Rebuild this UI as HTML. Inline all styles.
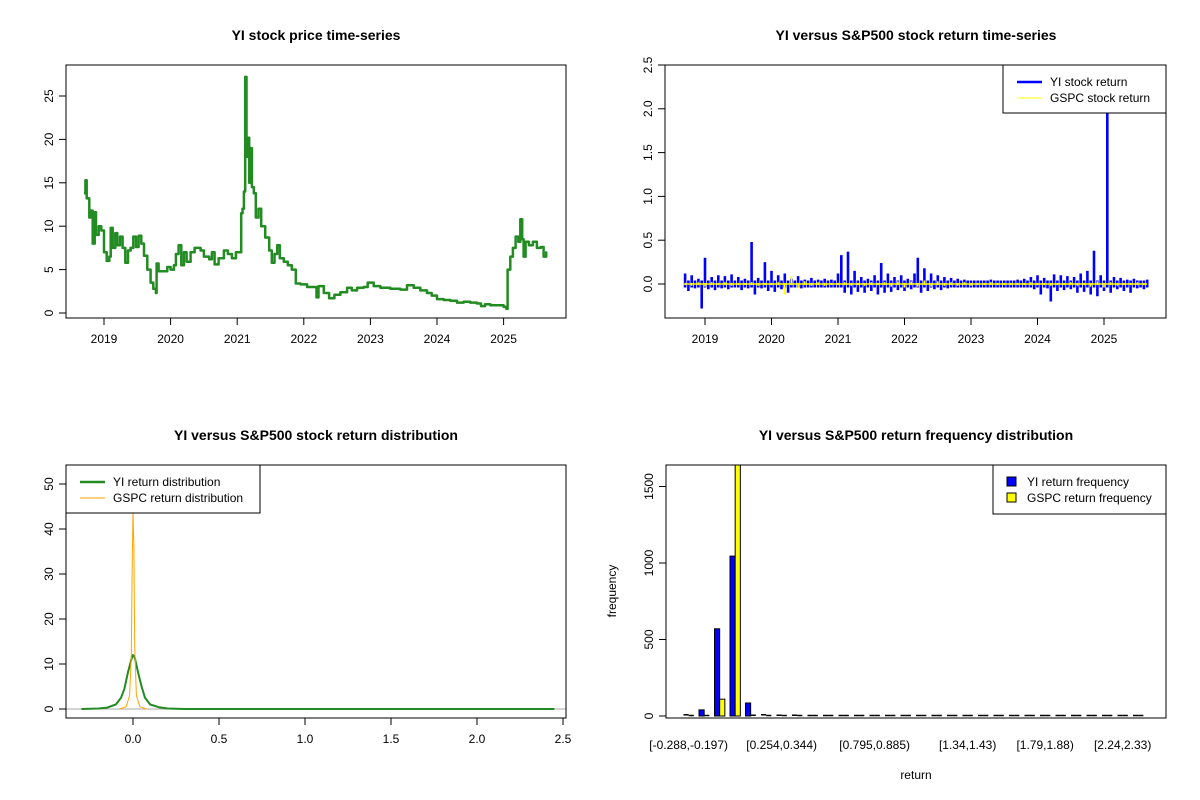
<!DOCTYPE html>
<html><head><meta charset="utf-8"><style>
html,body{margin:0;padding:0;background:#fff;}
svg{display:block;font-family:"Liberation Sans",Arial,sans-serif;}
.t{font-size:14px;font-weight:bold;text-anchor:middle;}
.tk{font-size:12px;}
</style></head><body>
<svg id="s" width="1200" height="800" viewBox="0 0 1200 800">
<rect width="1200" height="800" fill="#fff"/>
<text class="t" x="316" y="40">YI stock price time-series</text>
<text class="t" x="916" y="40">YI versus S&amp;P500 stock return time-series</text>
<text class="t" x="316" y="440">YI versus S&amp;P500 stock return distribution</text>
<text class="t" x="916" y="440">YI versus S&amp;P500 return frequency distribution</text>
<g id="g1"></g>
<g id="g2"></g>
<g id="g3"></g>
<g id="g4"></g>
</svg>
<script>
// ---- Panel 1 data: YI price
const priceT=[2018.70,2018.72,2018.74,2018.78,2018.80,2018.83,2018.86,2018.88,2018.92,2018.96,2019.0,2019.04,2019.08,2019.10,2019.13,2019.17,2019.20,2019.24,2019.28,2019.32,2019.36,2019.40,2019.44,2019.48,2019.52,2019.56,2019.60,2019.65,2019.70,2019.74,2019.78,2019.79,2019.82,2019.90,2019.95,2020.0,2020.05,2020.08,2020.12,2020.16,2020.20,2020.24,2020.30,2020.36,2020.45,2020.50,2020.58,2020.62,2020.66,2020.72,2020.80,2020.86,2020.92,2020.98,2021.04,2021.06,2021.08,2021.10,2021.12,2021.14,2021.16,2021.18,2021.20,2021.22,2021.25,2021.28,2021.32,2021.36,2021.42,2021.48,2021.52,2021.56,2021.60,2021.64,2021.70,2021.76,2021.82,2021.88,2021.95,2022.05,2022.12,2022.19,2022.22,2022.30,2022.38,2022.46,2022.55,2022.65,2022.72,2022.80,2022.90,2022.96,2023.05,2023.15,2023.30,2023.45,2023.55,2023.65,2023.75,2023.85,2023.92,2024.0,2024.10,2024.20,2024.30,2024.40,2024.50,2024.60,2024.66,2024.72,2024.80,2024.90,2025.0,2025.04,2025.06,2025.10,2025.14,2025.18,2025.22,2025.25,2025.28,2025.30,2025.33,2025.38,2025.44,2025.50,2025.56,2025.60,2025.64];
const priceV=[13.8,15.3,13.2,11,11.8,8.0,11.6,9,10,9.5,7.0,6.0,6.5,9.8,7.5,9.2,7.8,8.8,7.5,5.8,7.2,7.5,8.8,7.6,8.9,8.0,6.6,5.0,3.5,2.8,2.3,5.7,4.8,4.8,5.3,5.0,5.5,6.8,7.8,5.5,7.0,5.9,7.0,7.5,7.2,6.5,6.2,7.0,5.6,6.3,7.2,6.8,6.3,7.0,7.0,11.5,12.0,14.0,27.2,18.0,20.2,15.0,19.0,14.5,13.8,11.0,12.0,10.0,8.7,7.2,5.8,6.8,7.8,6.3,5.9,5.5,5.0,3.4,3.3,3.0,3.0,1.8,3.1,2.3,1.7,2.1,2.4,2.9,2.6,2.9,3.0,3.5,3.1,2.9,2.8,2.7,3.2,2.9,2.6,2.3,2.0,1.6,1.5,1.4,1.2,1.3,1.2,1.1,0.8,1.0,0.9,0.9,0.7,0.5,5.0,6.5,7.5,8.8,8.2,10.8,8.5,6.5,8.2,7.8,8.2,7.5,7.6,6.5,7.1];
const yearTicks=[2019,2020,2021,2022,2023,2024,2025];
const priceTicks=[0,5,10,15,20,25];
// ---- Panel 2 data: returns (YI every 0.05 yr from 2018.70, GSPC every 0.1 yr)
const yiRet=[0.12,-0.08,0.10,-0.05,0.06,-0.28,0.30,-0.06,0.08,-0.07,
0.10,-0.05,0.09,-0.06,0.11,-0.04,0.08,-0.07,0.06,-0.05,
0.48,-0.12,0.07,-0.05,0.25,-0.08,0.15,-0.09,0.10,-0.06,
0.12,-0.10,0.06,-0.04,0.09,-0.05,0.05,-0.04,0.07,-0.03,
0.05,-0.04,0.06,-0.03,0.05,-0.04,0.12,0.33,-0.10,0.37,
-0.12,0.15,-0.09,0.08,-0.10,0.06,-0.08,0.10,-0.12,0.24,
-0.10,0.12,-0.09,0.08,-0.07,0.10,-0.08,0.06,-0.06,0.12,
0.30,-0.10,0.18,-0.08,0.12,-0.06,0.10,-0.07,0.08,-0.05,
0.07,-0.04,0.06,-0.03,0.05,-0.03,0.04,-0.02,0.04,-0.03,
0.04,-0.02,0.05,-0.03,0.04,-0.02,0.03,-0.02,0.04,-0.03,
0.05,-0.03,0.06,-0.04,0.08,-0.06,0.10,-0.12,0.07,-0.05,
-0.20,0.11,-0.08,0.10,-0.07,0.09,-0.06,0.08,-0.10,0.12,
-0.09,0.15,-0.12,0.38,-0.14,0.10,-0.08,2.02,-0.10,0.08,
-0.06,0.07,-0.08,0.05,-0.10,0.06,-0.05,0.04,-0.06,0.05];
const gspcRet=[0.01,-0.02,0.02,-0.03,0.02,-0.01,0.02,-0.02,0.01,-0.01,
0.02,-0.02,0.01,-0.01,0.02,-0.12,0.09,-0.05,0.03,-0.02,
0.02,-0.02,0.01,-0.01,0.02,-0.02,0.01,-0.02,0.02,-0.01,
0.02,-0.03,0.03,-0.04,0.03,-0.03,0.04,-0.03,0.03,-0.02,
0.02,-0.02,0.02,-0.02,0.01,-0.01,0.02,-0.01,0.01,-0.01,
0.01,-0.01,0.02,-0.01,0.01,-0.02,0.01,-0.01,0.02,-0.02,
0.01,-0.03,0.03,-0.04,0.02,-0.02,0.01,-0.01,0.02,-0.01];
const retTicks=[0,0.5,1,1.5,2,2.5];
const retTickLabels=["0.0","0.5","1.0","1.5","2.0","2.5"];
// ---- Panel 3 data: densities
const yiDenX=[-0.30,-0.20,-0.15,-0.10,-0.07,-0.05,-0.03,-0.01,0.0,0.01,0.03,0.05,0.07,0.10,0.15,0.20,0.30,2.45];
const yiDenY=[0,0.1,0.3,1.0,2.5,4.5,8,11,12,11.5,8,5,2.5,1.0,0.4,0.1,0,0];
const gspcDenX=[-0.08,-0.04,-0.02,-0.01,-0.005,0.0,0.005,0.01,0.02,0.04,0.08];
const gspcDenY=[0,0.5,3,12,30,44,36,14,3,0.5,0];
const denXTicks=[0,0.5,1,1.5,2,2.5];
const denXLabels=["0.0","0.5","1.0","1.5","2.0","2.5"];
const denYTicks=[0,10,20,30,40,50];
// ---- Panel 4 data: histogram
const yiFreq=[8,40,570,1045,85,8,5,5,2,1,0,0,0,0,0,0,0,0,0,0,0,0,0,0,0,1,0,0,0,0];
const gspcFreq=[0,0,110,1650,5,0,0,0,0,0,0,0,0,0,0,0,0,0,0,0,0,0,0,0,0,0,0,0,0,0];
const binLabelIdx=[0,6,12,18,23,28];
const binLabels=["[-0.288,-0.197)","[0.254,0.344)","[0.795,0.885)","[1.34,1.43)","[1.79,1.88)","[2.24,2.33)"];
const freqTicks=[0,500,1000,1500];

const NS="http://www.w3.org/2000/svg";
function mk(p,tag,at){const e=document.createElementNS(NS,tag);for(const k in at)e.setAttribute(k,at[k]);p.appendChild(e);return e;}
function box(g,x0,y0,x1,y1){const r=mk(g,'rect',{x:x0,y:y0,width:x1-x0,height:y1-y0,fill:'none',stroke:'#000','stroke-width':1});

}
function yAxis(g,x0,vals,labels,sy,name){vals.forEach((v,i)=>{const y=sy(v);
mk(g,'line',{x1:x0-7,x2:x0,y1:y,y2:y,stroke:'#000'});
const t=mk(g,'text',{x:x0-13,y:y,class:'tk','text-anchor':'middle',transform:`rotate(-90 ${x0-13} ${y})`});


t.textContent=labels[i];});}
function xAxis(g,y0,vals,labels,sx,name){vals.forEach((v,i)=>{const x=sx(v);
mk(g,'line',{x1:x,x2:x,y1:y0,y2:y0+7,stroke:'#000'});
const t=mk(g,'text',{x:x,y:y0+25,class:'tk','text-anchor':'middle'});


t.textContent=labels[i];});}
function path(g,xs,ys,sx,sy,col,w,name,step){let d='';xs.forEach((x,i)=>{
if(step&&i){d+='H'+sx(x).toFixed(1)+'V'+sy(ys[i]).toFixed(1);}
else d+=(i?'L':'M')+sx(x).toFixed(1)+','+sy(ys[i]).toFixed(1);});
const p=mk(g,'path',{d:d,fill:'none',stroke:col,'stroke-width':w,'stroke-linejoin':'round'});

return p;}
function spikes(g,xs,ys,sx,sy,col,w,name,base){let d='';xs.forEach((x,i)=>{const px=sx(x).toFixed(1);
const lo=Math.min(ys[i],-base), hi=Math.max(ys[i],base);
d+='M'+px+','+sy(lo).toFixed(1)+'V'+sy(hi).toFixed(1);});
const p=mk(g,'path',{d:d,fill:'none',stroke:col,'stroke-width':w});

return p;}
function legend(g,x0,y0,x1,y1,items){const r=mk(g,'rect',{x:x0,y:y0,width:x1-x0,height:y1-y0,fill:'#fff',stroke:'#000'});


items.forEach((it,i)=>{const y=y0+17+i*16;
if(it.type==='line'){const l=mk(g,'line',{x1:x0+14,x2:x0+39,y1:y,y2:y,stroke:it.col,'stroke-width':it.w});

}
else{const s=mk(g,'rect',{x:x0+14,y:y-5,width:9,height:9,fill:it.col,stroke:'#000'});

}
const t=mk(g,'text',{x:x0+(it.type==='line'?47:34),y:y+4,class:'tk'});


t.textContent=it.label;});}

// Panel 1
(function(){const g=document.getElementById('g1');
const sx=t=>104+(t-2019)*66.6, sy=v=>313-v*8.68;
path(g,priceT,priceV,sx,sy,'#228B22',2.5,'yi-price-line',true);
box(g,66,65,566,318);
yAxis(g,66,priceTicks,priceTicks.map(String),sy,'price-y');
xAxis(g,318,yearTicks,yearTicks.map(String),sx,'price-x');})();

// Panel 2
(function(){const g=document.getElementById('g2');
const sx=t=>705+(t-2019)*66.5, sy=v=>284-v*87.6;
spikes(g,yiRet.map((v,i)=>2018.70+0.05*i),yiRet,sx,sy,'#0000ff',2.6,'yi-return-line',0.04);
spikes(g,gspcRet.map((v,i)=>2018.70+0.1*i),gspcRet,sx,sy,'#ffff00',1.6,'gspc-return-line',0.012);
const zl=mk(g,'line',{x1:sx(2018.70),x2:sx(2025.65),y1:sy(0),y2:sy(0),stroke:'#ffff00','stroke-width':1.5});


box(g,665,65,1166,318);
yAxis(g,665,retTicks,retTickLabels,sy,'return-y');
xAxis(g,318,yearTicks,yearTicks.map(String),sx,'return-x');
legend(g,1003,65,1166,113,[{type:'line',col:'#0000ff',w:2.5,label:'YI stock return'},{type:'line',col:'#ffff00',w:1,label:'GSPC stock return'}]);})();

// Panel 3
(function(){const g=document.getElementById('g3');
const sx=x=>133+x*172, sy=v=>709-v*4.5;
const z=mk(g,'line',{x1:66,x2:566,y1:sy(0),y2:sy(0),stroke:'#aaa'});


path(g,yiDenX,yiDenY,sx,sy,'#228B22',2,'yi-density-line');
path(g,gspcDenX,gspcDenY,sx,sy,'#ffa500',1,'gspc-density-line');
box(g,66,465,566,718);
yAxis(g,66,denYTicks,denYTicks.map(String),sy,'density-y');
xAxis(g,718,denXTicks,denXLabels,sx,'density-x');
legend(g,66,465,260,513,[{type:'line',col:'#228B22',w:2.5,label:'YI return distribution'},{type:'line',col:'#ffa500',w:1,label:'GSPC return distribution'}]);})();

// Panel 4
(function(){const g=document.getElementById('g4');
const sy=v=>716-v*0.153, bw=5.17, gx=i=>683.5+i*15.5;
const cp=mk(g,'clipPath',{id:'cp4'});mk(cp,'rect',{x:666,y:465,width:500,height:253});
const bars=mk(g,'g',{'clip-path':'url(#cp4)'});
function bar(x,v,col,name){const h=716-sy(v);
if(h<1.5){const l=mk(bars,'line',{x1:x,x2:x+bw,y1:716-Math.max(h,0.5),y2:716-Math.max(h,0.5),stroke:'#000','stroke-width':1.5});

return;}
const r=mk(bars,'rect',{x:x,y:sy(v),width:bw,height:h,fill:col,stroke:'#000','stroke-width':1});

}
yiFreq.forEach((v,i)=>bar(gx(i),v,'#0000ff','yi-frequency-bar'));
gspcFreq.forEach((v,i)=>bar(gx(i)+bw,v,'#ffff00','gspc-frequency-bar'));
box(g,666,465,1166,718);
yAxis(g,666,freqTicks,freqTicks.map(String),sy,'frequency-y');
binLabelIdx.forEach((b,i)=>{const t=mk(g,'text',{x:gx(b)+bw,y:749,class:'tk','text-anchor':'middle'});


t.textContent=binLabels[i];});
const xl=mk(g,'text',{x:916,y:779,class:'tk','text-anchor':'middle'});


xl.textContent='return';
const yl=mk(g,'text',{x:616,y:591,class:'tk','text-anchor':'middle',transform:'rotate(-90 616 591)'});


yl.textContent='frequency';
legend(g,993,465,1166,514,[{type:'box',col:'#0000ff',label:'YI return frequency'},{type:'box',col:'#ffff00',label:'GSPC return frequency'}]);})();
</script>
</body></html>
